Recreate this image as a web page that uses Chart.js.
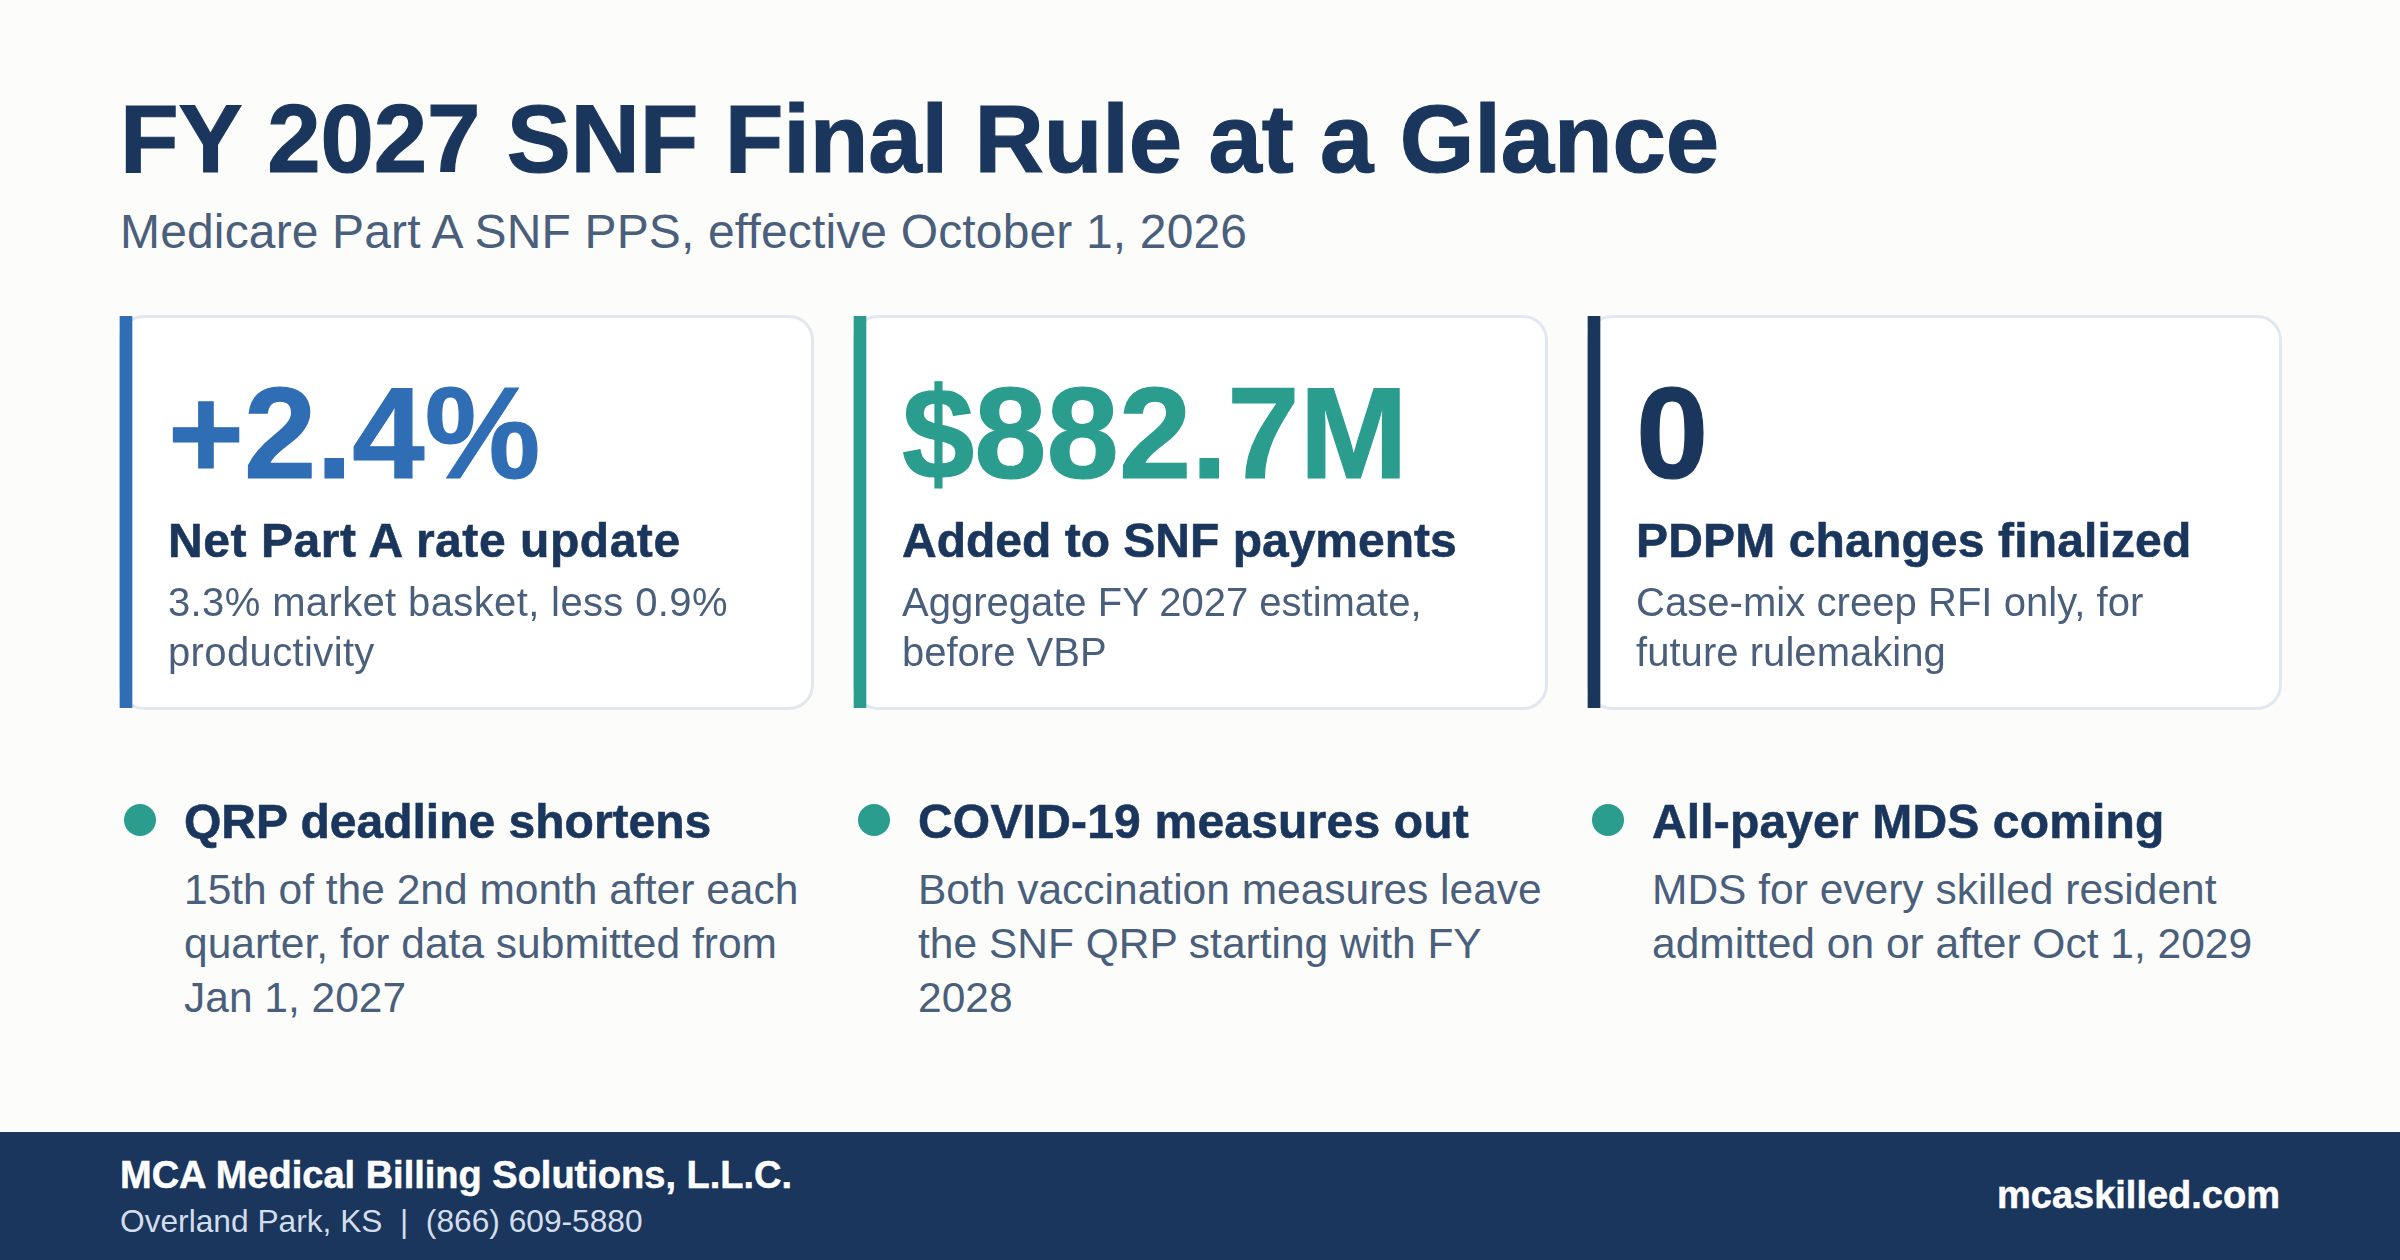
<!DOCTYPE html>
<html lang="en">
<head>
<meta charset="utf-8">
<title>FY 2027 SNF Final Rule at a Glance</title>
<script src="https://cdn.jsdelivr.net/npm/chart.js@4"></script>
<style>
html,body{margin:0;padding:0;background:#fcfcfa;}
#stage{position:relative;width:2400px;height:1260px;overflow:hidden;background:#fcfcfa;font-family:"Liberation Sans",Arial,sans-serif;}
.t{position:absolute;white-space:pre;}
.card{position:absolute;top:314.5px;width:695px;height:395px;box-sizing:border-box;background:#fff;border:3px solid #e2e8f0;border-radius:25px;}
#foot{position:absolute;left:0;top:1132px;width:2400px;height:128px;background:#1a365d;}
canvas{position:absolute;}
</style>
</head>
<body>
<div id="stage">
  <div id="cards"></div>
  <div id="foot"></div>
  <div id="barWrap" style="position:absolute;left:0;top:316px;width:2400px;height:392px"><canvas id="bars"></canvas></div>
  <div id="dotWrap" style="position:absolute;left:0;top:790px;width:2400px;height:60px"><canvas id="dots"></canvas></div>
  <div id="texts"></div>
</div>
<script>
const title = "FY 2027 SNF Final Rule at a Glance";
const subtitle = "Medicare Part A SNF PPS, effective October 1, 2026";
const kpiCategories = ["Net Part A rate update","Added to SNF payments","PDPM changes finalized"];
const kpiValues = [2.4, 882.7, 0];
const kpiLabels = ["+2.4%","$882.7M","0"];
const kpiNotes = [
  ["3.3% market basket, less 0.9%","productivity"],
  ["Aggregate FY 2027 estimate,","before VBP"],
  ["Case-mix creep RFI only, for","future rulemaking"]
];
const kpiColors = ["#2f6db5","#2a9d8f","#1a365d"];
const bulletHeads = ["QRP deadline shortens","COVID-19 measures out","All-payer MDS coming"];
const bulletNotes = [
  ["15th of the 2nd month after each","quarter, for data submitted from","Jan 1, 2027"],
  ["Both vaccination measures leave","the SNF QRP starting with FY","2028"],
  ["MDS for every skilled resident","admitted on or after Oct 1, 2029"]
];
const footerName = "MCA Medical Billing Solutions, L.L.C.";
const footerLine = "Overland Park, KS  |  (866) 609-5880";
const footerSite = "mcaskilled.com";
const accentSpan = [[0,1],[0,1],[0,1]];
const bulletMarks = [1,1,1];

const NAVY="#1a365d", SLATE="#4a5f7c", TEAL="#2a9d8f";
const labelTrack=[0.55,0,0.15], noteTrack=[0.37,0,0.05], headTrack=[0,0.2,0.15];
const textLayer=document.getElementById('texts');
function put(str,x,base,size,weight,color,opt={}){
  const d=document.createElement('div');d.className='t';d.textContent=str;
  const L=Math.round(size*1.2);
  d.style.cssText=`top:${base-L/2-0.3465*size}px;font-size:${size}px;line-height:${L}px;font-weight:${weight};color:${color};`+
    (opt.right!=null?`right:${2400-opt.right}px;`:`left:${x}px;`)+(opt.ls?`letter-spacing:${opt.ls}px;`:'')+
    (opt.st?`-webkit-text-stroke:${opt.st}px ${color};`:'');
  textLayer.appendChild(d);
}
put(title,120,172,96,700,NAVY,{ls:-0.15,st:1.2});
put(subtitle,120,249,48,400,SLATE,{ls:0.15});
const STEP=734;
kpiCategories.forEach((c,i)=>{
  const o=STEP*i;
  const card=document.createElement('div');card.className='card';card.style.left=(118.5+o)+'px';
  document.getElementById('cards').appendChild(card);
  put(kpiLabels[i],168+o,478,130,700,kpiColors[i],{st:1.2});
  put(c,168+o,557.5,48,700,NAVY,{st:0.6,ls:labelTrack[i]});
  kpiNotes[i].forEach((s,j)=>put(s,168+o,616+50*j,40,400,SLATE,{ls:noteTrack[i]}));
  put(bulletHeads[i],184+o,838.5,48,700,NAVY,{st:0.6,ls:headTrack[i]});
  bulletNotes[i].forEach((s,j)=>put(s,184+o,904.5+54*j,42.5,400,SLATE));
});
put(footerName,120,1188,38,700,'#ffffff',{st:0.5});
put(footerLine,120,1232,31.7,400,'#d3ddeb');
put(footerSite,0,1208,38,700,'#ffffff',{right:2280,st:0.5});

const baseOpts=(pad)=>({
  responsive:true,maintainAspectRatio:false,animation:false,
  layout:{padding:pad},
  plugins:{legend:{display:false},tooltip:{enabled:false},title:{display:false}},
  scales:{
    x:{display:false,offset:false},
    y:{display:false,min:0,max:1}
  }
});
new Chart(document.getElementById('bars'),{
  type:'bar',
  data:{labels:kpiCategories,datasets:[{data:accentSpan,backgroundColor:kpiColors,barThickness:12,borderWidth:0,borderSkipped:false,clip:false}]},
  options:baseOpts({left:126,right:2400-1594,top:0,bottom:0})
});
new Chart(document.getElementById('dots'),{
  type:'line',
  data:{labels:bulletHeads,datasets:[{data:bulletMarks,showLine:false,pointRadius:16,pointBackgroundColor:TEAL,pointBorderWidth:0,clip:false}]},
  options:Object.assign(baseOpts({left:140,right:2400-1608,top:30,bottom:30}),{scales:{x:{display:false,offset:false},y:{display:false,min:0.5,max:1.5}}})
});
</script>
</body>
</html>
